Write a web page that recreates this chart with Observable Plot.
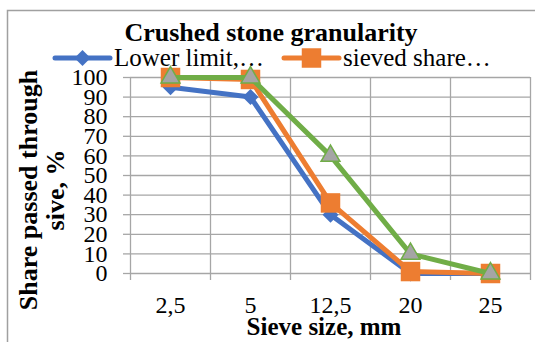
<!DOCTYPE html>
<html>
<head>
<meta charset="utf-8">
<script src="https://cdn.jsdelivr.net/npm/d3@7"></script>
<script src="https://cdn.jsdelivr.net/npm/@observablehq/plot@0.6"></script>
<style>
  html, body { margin: 0; padding: 0; background: #fff; }
  svg { display: block; }
  svg text { font-family: "Liberation Serif", "Times New Roman", serif; }
</style>
</head>
<body>
<div id="chart"></div>
<script>
const sieveSizes = ["2,5", "5", "12,5", "20", "25"];
const lowerLimit = [95, 90, 30, 0, 0];
const sievedShare = [100, 99, 36, 1, 0];
const upperLimit = [100, 100, 60, 10, 0];
const yTicks = [0, 10, 20, 30, 40, 50, 60, 70, 80, 90, 100];

const blue = "#4472C4", orange = "#ED7D31", green = "#70AD47", grey = "#A5A5A5";
const gridColor = "#A6A6A6";
const serif = "Liberation Serif, Times New Roman, serif";

const toRows = (vals) => vals.map((v, i) => ({i, v, cat: sieveSizes[i]}));
const lowerRows = toRows(lowerLimit);
const sievedRows = toRows(sievedShare);
const upperRows = toRows(upperLimit);
const edges = d3.range(sieveSizes.length + 1).map(k => k - 0.5);

const plot = Plot.plot({
  width: 535,
  height: 342,
  marginLeft: 130,
  marginRight: 5,
  marginTop: 77,
  marginBottom: 69,
  style: {fontFamily: serif, background: "white", color: "#000", overflow: "visible"},
  x: {type: "linear", domain: [-0.5, sieveSizes.length - 0.5]},
  y: {domain: [0, 100]},
  marks: [
    Plot.gridY(yTicks, {stroke: gridColor, strokeOpacity: 1, strokeWidth: 1.3}),
    Plot.gridX(edges, {stroke: gridColor, strokeOpacity: 1, strokeWidth: 1.3}),
    Plot.axisY(yTicks, {tickSize: 7, tickPadding: 16, fontSize: 24, fontFamily: serif, stroke: gridColor, strokeWidth: 1.3, label: null, fill: "#000"}),
    Plot.axisX(edges, {tickSize: 7, tickFormat: () => "", stroke: gridColor, strokeWidth: 1.3, label: null}),
    Plot.axisX(d3.range(sieveSizes.length), {tickSize: 0, tickPadding: 22, fontSize: 24, fontFamily: serif, tickFormat: i => sieveSizes[i], label: null, fill: "#000"}),
    Plot.line(lowerRows, {x: "i", y: "v", stroke: blue, strokeWidth: 5}),
    Plot.dot(lowerRows, {x: "i", y: "v", symbol: "diamond2", r: 7.2, fill: blue, stroke: "none"}),
    Plot.line(sievedRows, {x: "i", y: "v", stroke: orange, strokeWidth: 5}),
    Plot.dot(sievedRows, {x: "i", y: "v", symbol: "square", r: 11, fill: orange, stroke: "none"}),
    Plot.line(upperRows, {x: "i", y: "v", stroke: green, strokeWidth: 5}),
    Plot.dot(upperRows, {x: "i", y: "v", symbol: "triangle", r: 7, fill: grey, stroke: green, strokeWidth: 1.5})
  ]
});

document.getElementById("chart").appendChild(plot);
const svg = d3.select(plot);

// make sure the axis labels use the serif face at the intended size
svg.selectAll("g[aria-label$='tick label']")
  .style("font-family", serif)
  .style("font-size", "24px");

// chart border (left and top visible)
svg.insert("path", ":first-child")
  .attr("d", "M7.5,342 V10.5 H535")
  .attr("fill", "none").attr("stroke", "#A0A0A0").attr("stroke-width", 1.5);

// title
svg.append("text")
  .attr("x", 271).attr("y", 41)
  .attr("text-anchor", "middle")
  .attr("font-family", serif).attr("font-weight", "bold").attr("font-size", 26)
  .text("Crushed stone granularity");

// legend
const legend = [
  {label: "Lower limit,…", color: blue, x0: 55, symbol: d3.symbolDiamond2, size: 163},
  {label: "sieved share…", color: orange, x0: 284, symbol: d3.symbolSquare, size: 380}
];
const ly = 58;
for (const it of legend) {
  svg.append("line")
    .attr("x1", it.x0).attr("x2", it.x0 + 55).attr("y1", ly).attr("y2", ly)
    .attr("stroke", it.color).attr("stroke-width", 5).attr("stroke-linecap", "round");
  svg.append("path")
    .attr("d", d3.symbol(it.symbol, it.size)())
    .attr("transform", `translate(${it.x0 + 27.5},${ly})`)
    .attr("fill", it.color);
  svg.append("text")
    .attr("x", it.x0 + 59).attr("y", ly + 8)
    .attr("text-anchor", "start")
    .attr("font-family", serif).attr("font-size", 25)
    .text(it.label);
}

// y axis title (two lines)
const yt = svg.append("text")
  .attr("transform", "translate(0,190) rotate(-90)")
  .attr("text-anchor", "middle")
  .attr("font-family", serif).attr("font-weight", "bold").attr("font-size", 26);
yt.append("tspan").attr("x", 0).attr("y", 37).text("Share passed through");
yt.append("tspan").attr("x", 0).attr("y", 64).text("sive, %");

// x axis title
svg.append("text")
  .attr("x", 324).attr("y", 335)
  .attr("text-anchor", "middle")
  .attr("font-family", serif).attr("font-weight", "bold").attr("font-size", 25)
  .text("Sieve size, mm");
</script>
</body>
</html>
